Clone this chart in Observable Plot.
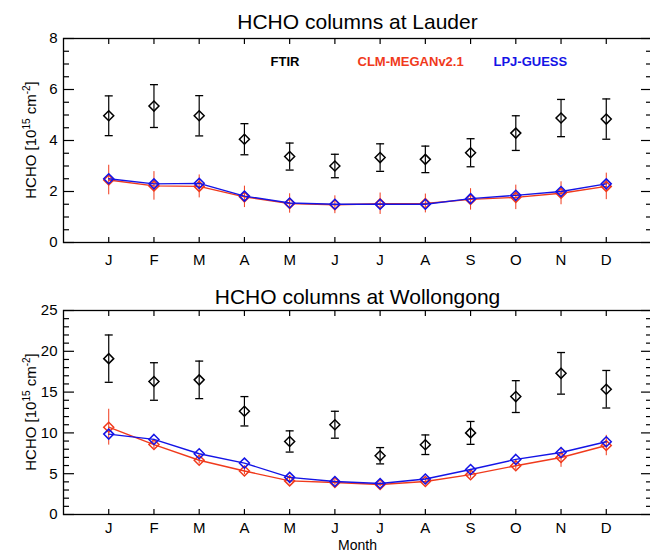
<!DOCTYPE html>
<html><head><meta charset="utf-8">
<script src="https://cdn.jsdelivr.net/npm/d3@7"></script>
<script src="https://cdn.jsdelivr.net/npm/@observablehq/plot@0.6"></script>
<style>
html,body{margin:0;padding:0;background:#fff;overflow:hidden;}
#chart{width:650px;height:552px;position:relative;overflow:hidden;}
#chart svg{display:block;}
</style></head><body><div id="chart"></div>
<script>
// ---- data ----
const monthLabels = ["J","F","M","A","M","J","J","A","S","O","N","D"];
const monthIndex = [1,2,3,4,5,6,7,8,9,10,11,12];
const seriesNames = ["FTIR", "CLM-MEGANv2.1", "LPJ-GUESS"];

const lauderTitle = "HCHO columns at Lauder";
const lauderFTIR    = [4.97, 5.35, 4.97, 4.05, 3.37, 3.00, 3.33, 3.26, 3.52, 4.29, 4.88, 4.84];
const lauderFTIRErr = [0.78, 0.84, 0.79, 0.61, 0.53, 0.46, 0.54, 0.52, 0.55, 0.68, 0.73, 0.79];
const lauderCLM     = [2.45, 2.22, 2.20, 1.79, 1.53, 1.48, 1.52, 1.53, 1.69, 1.77, 1.93, 2.20];
const lauderCLMErr  = [0.58, 0.56, 0.45, 0.42, 0.38, 0.35, 0.42, 0.37, 0.42, 0.48, 0.45, 0.52];
const lauderLPJ     = [2.50, 2.30, 2.32, 1.82, 1.55, 1.50, 1.50, 1.50, 1.72, 1.85, 2.00, 2.30];

const wollTitle = "HCHO columns at Wollongong";
const wollFTIR    = [19.1, 16.3, 16.5, 12.65, 8.95, 11.0, 7.2, 8.55, 10.0, 14.45, 17.3, 15.35];
const wollFTIRErr = [2.9, 2.3, 2.3, 1.8, 1.3, 1.65, 1.0, 1.2, 1.4, 1.95, 2.55, 2.3];
const wollCLM     = [10.7, 8.57, 6.65, 5.33, 4.12, 3.92, 3.68, 4.05, 4.88, 5.98, 6.98, 8.45];
const wollCLMErr  = [2.2, 0.5, 0.45, 0.45, 0.35, 0.35, 0.3, 0.35, 0.45, 0.55, 1.2, 1.25];
const wollLPJ     = [9.85, 9.20, 7.45, 6.30, 4.55, 4.05, 3.80, 4.35, 5.52, 6.75, 7.60, 8.92];

// ---- styles ----
const FONT = "'Liberation Sans', Arial, Helvetica, sans-serif";
const C_FTIR = "#000000", C_CLM = "#f03a1c", C_LPJ = "#1414e6";

const capSymbol = {draw(ctx, size) { const r = Math.sqrt(size / Math.PI); ctx.moveTo(-r, 0); ctx.lineTo(r, 0); }};

function panel({title, ftir, ftirErr, clm, clmErr, lpj, yMax, major, minor, legend, xlabel, marginTop, marginBottom, titleDy, labelPad}) {
  const H = 276;
  const rows = monthIndex.map((m, i) => ({
    m, ftir: ftir[i], fLo: ftir[i] - ftirErr[i], fHi: ftir[i] + ftirErr[i],
    clm: clm[i], cLo: clm[i] - clmErr[i], cHi: clm[i] + clmErr[i], lpj: lpj[i]
  }));
  const majorTicks = d3.range(0, yMax + 1e-9, major);
  const minorTicks = d3.range(0, Math.round(yMax / minor) + 1).map(k => k * minor)
    .filter(v => Math.abs(v / major - Math.round(v / major)) > 1e-6);
  const marks = [
    Plot.frame({stroke: "black", strokeWidth: 1.3}),
    Plot.axisY({anchor: "left", ticks: majorTicks, tickSize: -11, fill: "none", label: null, strokeWidth: 1.2}),
    Plot.axisY({anchor: "left", ticks: minorTicks, tickSize: -6, fill: "none", label: null, strokeWidth: 1.2}),
    Plot.axisY({anchor: "right", ticks: majorTicks, tickSize: -11, fill: "none", label: null, strokeWidth: 1.2}),
    Plot.axisY({anchor: "right", ticks: minorTicks, tickSize: -6, fill: "none", label: null, strokeWidth: 1.2}),
    Plot.axisY({anchor: "left", ticks: majorTicks, tickSize: 0, tickPadding: 6, label: null, fontSize: 15, fill: "black"}),
    Plot.axisX({anchor: "bottom", ticks: monthIndex, tickSize: -5, fill: "none", label: null, strokeWidth: 1.2}),
    Plot.axisX({anchor: "top", ticks: monthIndex, tickSize: -5, fill: "none", label: null, strokeWidth: 1.2}),
    Plot.axisX({anchor: "bottom", ticks: monthIndex, tickSize: 0, tickPadding: labelPad, label: null, fontSize: 15, fill: "black",
      tickFormat: i => monthLabels[i - 1]}),
    Plot.text([title], {text: d => d, frameAnchor: "top", dy: titleDy, fontSize: 21, lineAnchor: "middle", fill: "black"}),
    // FTIR
    Plot.ruleX(rows, {x: "m", y1: "fLo", y2: "fHi", stroke: C_FTIR, strokeWidth: 1.2}),
    Plot.dot(rows, {x: "m", y: "fLo", symbol: capSymbol, r: 4, stroke: C_FTIR, strokeWidth: 1.3}),
    Plot.dot(rows, {x: "m", y: "fHi", symbol: capSymbol, r: 4, stroke: C_FTIR, strokeWidth: 1.3}),
    Plot.dot(rows, {x: "m", y: "ftir", symbol: "diamond2", r: 4.5, stroke: C_FTIR, fill: "none", strokeWidth: 1.5}),
    // CLM
    Plot.ruleX(rows, {x: "m", y1: "cLo", y2: "cHi", stroke: C_CLM, strokeWidth: 1}),
    Plot.line(rows, {x: "m", y: "clm", stroke: C_CLM, strokeWidth: 1.4}),
    Plot.dot(rows, {x: "m", y: "clm", symbol: "diamond2", r: 4.5, stroke: C_CLM, fill: "none", strokeWidth: 1.5}),
    // LPJ
    Plot.line(rows, {x: "m", y: "lpj", stroke: C_LPJ, strokeWidth: 1.4}),
    Plot.dot(rows, {x: "m", y: "lpj", symbol: "diamond2", r: 4.5, stroke: C_LPJ, fill: "none", strokeWidth: 1.5})
  ];
  if (legend) {
    const colors = [C_FTIR, C_CLM, C_LPJ];
    const offsets = [207, 294, 430];
    seriesNames.forEach((name, i) => {
      marks.push(Plot.text([name], {text: d => d, frameAnchor: "top-left", dx: offsets[i], dy: 27,
        textAnchor: "start", lineAnchor: "bottom", fill: colors[i], fontSize: 13, fontWeight: "bold"}));
    });
  }
  if (xlabel) {
    marks.push(Plot.text([xlabel], {text: d => d, frameAnchor: "bottom", dy: 31, lineAnchor: "middle", fontSize: 14, fill: "black"}));
  }
  const svg = Plot.plot({
    width: 650, height: H, marginLeft: 63, marginRight: -1, marginTop, marginBottom,
    style: {fontFamily: FONT, fontSize: "14px", color: "black", background: "white", overflow: "hidden"},
    x: {domain: [0, 13]},
    y: {domain: [0, yMax]},
    marks
  });
  // y-axis title with superscripts
  const cy = (marginTop + H - marginBottom) / 2;
  const t = d3.select(svg).append("text")
    .attr("transform", `translate(36,${cy}) rotate(-90)`)
    .attr("text-anchor", "middle")
    .attr("font-size", 15)
    .attr("fill", "black")
    .attr("font-family", FONT);
  t.append("tspan").text("HCHO [10");
  t.append("tspan").attr("dy", -6).attr("font-size", 10).text("15");
  t.append("tspan").attr("dy", 6).text(" cm");
  t.append("tspan").attr("dy", -6).attr("font-size", 10).text("-2");
  t.append("tspan").attr("dy", 6).text("]");
  return svg;
}

const chart = document.getElementById("chart");
chart.appendChild(panel({title: lauderTitle, ftir: lauderFTIR, ftirErr: lauderFTIRErr, clm: lauderCLM, clmErr: lauderCLMErr,
  lpj: lauderLPJ, yMax: 8, major: 2, minor: 0.5, legend: true, xlabel: null, marginTop: 38, marginBottom: 34, titleDy: -16, labelPad: 12}));
chart.appendChild(panel({title: wollTitle, ftir: wollFTIR, ftirErr: wollFTIRErr, clm: wollCLM, clmErr: wollCLMErr,
  lpj: wollLPJ, yMax: 25, major: 5, minor: 1, legend: false, xlabel: "Month", marginTop: 34, marginBottom: 38, titleDy: -13, labelPad: 8}));
</script>
</body></html>
